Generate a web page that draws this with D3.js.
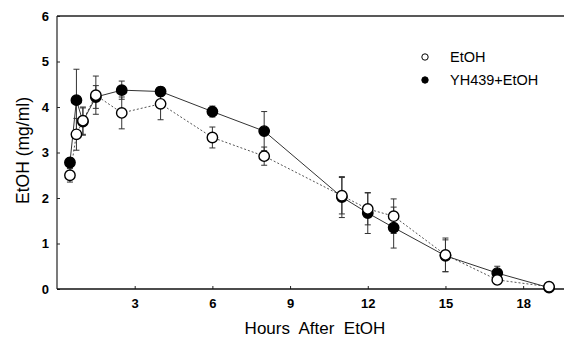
<!DOCTYPE html>
<html>
<head>
<meta charset="utf-8">
<script src="https://cdn.jsdelivr.net/npm/d3@7"></script>
<style>
  body { margin: 0; background: #fff; }
  svg { display: block; font-family: "Liberation Sans", Arial, sans-serif; }
</style>
</head>
<body>
<svg id="chart" width="564" height="338"></svg>
<script>
// sampling times (hours after EtOH)
const hours = [0.5, 0.75, 1, 1.5, 2.5, 4, 6, 8, 11, 12, 13, 15, 17, 19];

// EtOH alone (open circles)
const etohMean = [2.5, 3.4, 3.7, 4.26, 3.87, 4.07, 3.33, 2.92, 2.05, 1.76, 1.6, 0.75, 0.2, 0.05];
const etohErr  = [0.15, 0.35, 0.3, 0.42, 0.35, 0.35, 0.23, 0.2, 0.4, 0.35, 0.38, 0.37, 0.1, 0];

// YH439 + EtOH (filled circles)
const yhMean = [2.78, 4.15, 3.68, 4.22, 4.37, 4.34, 3.9, 3.47, 2.02, 1.67, 1.35, 0.73, 0.35, 0.03];
const yhErr  = [0.1, 0.68, 0.3, 0.25, 0.2, 0.1, 0.12, 0.43, 0.45, 0.45, 0.45, 0.35, 0.15, 0];

const xTicks = [3, 6, 9, 12, 15, 18];
const yTicks = [0, 1, 2, 3, 4, 5, 6];

const svg = d3.select('#chart');
const plotLeft = 57, plotRight = 562, plotTop = 16, plotBottom = 289;

const x = d3.scaleLinear().domain([0, 19.5]).range([plotLeft, plotRight]);
const y = d3.scaleLinear().domain([0, 6]).range([plotBottom, plotTop]);

// axes
const xAxis = svg.append('g')
  .attr('transform', `translate(0,${plotBottom})`)
  .call(d3.axisBottom(x).tickValues(xTicks).tickSize(-3).tickPadding(10).tickFormat(d3.format('d')));
const yAxis = svg.append('g')
  .attr('transform', `translate(${plotLeft},0)`)
  .call(d3.axisLeft(y).tickValues(yTicks).tickSize(-3).tickPadding(8).tickFormat(d3.format('d')));

[xAxis, yAxis].forEach(ax => {
  ax.select('.domain').remove();
  ax.selectAll('.tick line').attr('stroke', '#222').attr('stroke-width', 1);
  ax.selectAll('.tick text')
    .attr('fill', '#000')
    .attr('font-size', 13)
    .attr('font-weight', 'bold')
    .attr('font-family', '"Liberation Sans", Arial, sans-serif');
});

// frame: left, bottom, top
svg.append('line').attr('x1', plotLeft).attr('x2', plotLeft).attr('y1', plotTop).attr('y2', plotBottom)
  .attr('stroke', '#222').attr('stroke-width', 1.2);
svg.append('line').attr('x1', plotLeft).attr('x2', 564).attr('y1', plotBottom).attr('y2', plotBottom)
  .attr('stroke', '#111').attr('stroke-width', 1.5);
svg.append('line').attr('x1', plotLeft).attr('x2', 564).attr('y1', plotTop).attr('y2', plotTop)
  .attr('stroke', '#222').attr('stroke-width', 1.5);

// axis titles
svg.append('text')
  .attr('transform', `translate(29,${(plotTop + plotBottom) / 2 - 2}) rotate(-90)`)
  .attr('text-anchor', 'middle')
  .attr('font-size', 17.5)
  .text('EtOH (mg/ml)');
svg.append('text')
  .attr('x', 315).attr('y', 334)
  .attr('text-anchor', 'middle')
  .attr('font-size', 17)
  .attr('xml:space', 'preserve')
  .text('Hours  After  EtOH');

const series = [
  { mean: etohMean, err: etohErr, fill: '#fff', dash: '2,2', stroke: '#555' },
  { mean: yhMean, err: yhErr, fill: '#000', dash: null, stroke: '#333' }
];

const line = d3.line().x(d => x(d.h)).y(d => y(d.v));

series.forEach(s => {
  const pts = hours.map((h, i) => ({ h: h, v: s.mean[i], e: s.err[i] }));
  svg.append('path')
    .datum(pts)
    .attr('d', line)
    .attr('fill', 'none')
    .attr('stroke', s.stroke)
    .attr('stroke-width', 1)
    .attr('stroke-dasharray', s.dash);

  const eb = svg.append('g').attr('stroke', '#333').attr('stroke-width', 1);
  pts.filter(d => d.e > 0).forEach(d => {
    const cx = x(d.h);
    eb.append('line').attr('x1', cx).attr('x2', cx).attr('y1', y(d.v + d.e)).attr('y2', y(d.v - d.e));
    [d.v + d.e, d.v - d.e].forEach(v => {
      eb.append('line').attr('x1', cx - 3).attr('x2', cx + 3).attr('y1', y(v)).attr('y2', y(v));
    });
  });
});

// markers drawn after all lines so they sit on top
series.slice().reverse().forEach(s => {
  svg.append('g').selectAll('circle')
    .data(hours.map((h, i) => ({ h: h, v: s.mean[i] })))
    .enter().append('circle')
    .attr('cx', d => x(d.h))
    .attr('cy', d => y(d.v))
    .attr('r', 5.2)
    .attr('fill', s.fill)
    .attr('stroke', '#000')
    .attr('stroke-width', 1.4);
});

// legend
const legend = svg.append('g').attr('transform', 'translate(425,57)');
[{ label: 'EtOH', fill: '#fff' }, { label: 'YH439+EtOH', fill: '#000' }].forEach((d, i) => {
  legend.append('circle').attr('cx', 0).attr('cy', i * 23).attr('r', 3.2)
    .attr('fill', d.fill).attr('stroke', '#000').attr('stroke-width', 1);
  legend.append('text').attr('x', 25).attr('y', i * 23 + 5)
    .attr('font-size', 14.5).text(d.label);
});
</script>
</body>
</html>
